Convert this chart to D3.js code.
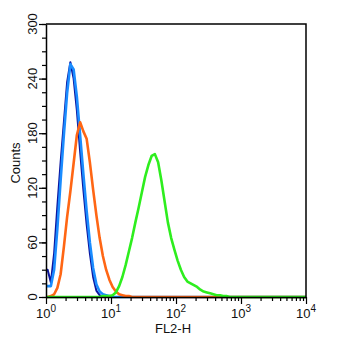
<!DOCTYPE html>
<html>
<head>
<meta charset="utf-8">
<script src="https://cdn.jsdelivr.net/npm/d3@7/dist/d3.min.js"></script>
<style>
  html, body { margin: 0; padding: 0; background: #fff; }
  svg { display: block; font-family: "Liberation Sans", Arial, Helvetica, sans-serif; }
</style>
</head>
<body>
<svg id="chart" width="345" height="346"></svg>
<script>
// Histogram channels: 0.05-decade bins across FL2-H 10^0 .. 10^4
const binLogStep = 0.05;
const binCount = 80;

// Counts per bin, starting at bin 0 (FL2-H = 1); bins not listed are empty
const isotypeNavy = [30, 16, 48, 100, 148, 192, 236, 258, 240, 205, 160, 118, 80, 48, 22, 7, 2, 0];
const controlBlue = [12, 12, 30, 75, 128, 178, 224, 256, 250, 220, 178, 135, 95, 60, 32, 14, 6, 3, 2, 1, 0];
const stainedOrange = [0, 1, 3, 10, 25, 55, 88, 116, 147, 178, 192, 182, 174, 148, 118, 90, 65, 45, 30, 19, 11, 6, 3, 2, 1, 1, 0];
const stainedGreen = [0, 0, 0, 0, 0, 0, 0, 0, 0, 0, 0, 0, 0, 0, 0, 0, 0, 1, 1, 1,
  2, 5, 12, 22, 35, 50, 65, 82, 98, 115, 132, 145, 155, 157, 148, 128, 105, 82, 65, 52,
  40, 30, 22, 17, 15, 13, 11, 8, 6, 5, 4, 3, 2, 2, 1, 1, 0];

const seriesColors = ["#0b16a0", "#1a8cff", "#ff6614", "#2eee1e"];
const seriesWidths = [2, 2.6, 2.6, 2.6];
const seriesData = [isotypeNavy, controlBlue, stainedOrange, stainedGreen];

const yMajorTicks = [0, 60, 120, 180, 240, 300];
const xMajorExponents = [0, 1, 2, 3, 4];
const xTitle = "FL2-H";
const yTitle = "Counts";

const svg = d3.select("#chart");
const plot = { left: 46, right: 306, top: 24, bottom: 297 };

const x = d3.scaleLog().domain([1, 10000]).range([plot.left, plot.right]);
const y = d3.scaleLinear().domain([0, 300]).range([plot.bottom, plot.top]);

// Histogram traces, joined through the bin centres
const centres = d3.range(binCount).map(i => Math.pow(10, (i + 0.5) * binLogStep));
const line = d3.line()
  .x(d => x(d[0]))
  .y(d => y(d[1]));

seriesData.forEach((vals, k) => {
  const counts = centres.map((c, i) => (i < vals.length ? vals[i] : 0));
  const pts = [[1, counts[0]]]
    .concat(centres.map((c, i) => [c, counts[i]]))
    .concat([[10000, counts[binCount - 1]]]);
  svg.append("path")
    .attr("d", line(pts))
    .attr("fill", "none")
    .attr("stroke", seriesColors[k])
    .attr("stroke-width", seriesWidths[k])
    .attr("stroke-linejoin", "round");
});

// Frame
svg.append("path")
  .attr("d", `M${plot.left},${plot.top}H${plot.right}V${plot.bottom}`)
  .attr("fill", "none").attr("stroke", "#000").attr("stroke-width", 1.5);

// Bottom axis: minor ticks
const xMinor = [];
for (let e = 0; e < 4; e++) for (let m = 2; m <= 9; m++) xMinor.push(m * Math.pow(10, e));
svg.append("g")
  .attr("transform", `translate(0,${plot.bottom})`)
  .call(d3.axisBottom(x).tickValues(xMinor).tickSize(4).tickFormat(""))
  .call(g => g.select(".domain").remove())
  .call(g => g.selectAll("line").attr("stroke-width", 1.2));

const xAxis = svg.append("g")
  .attr("transform", `translate(0,${plot.bottom})`)
  .call(d3.axisBottom(x).tickValues(xMajorExponents.map(e => Math.pow(10, e))).tickSize(7).tickSizeOuter(0).tickFormat(""));
xAxis.select(".domain").attr("stroke-width", 1.5);
xAxis.selectAll("line").attr("stroke-width", 1.2);

xMajorExponents.forEach(e => {
  const t = svg.append("text")
    .attr("x", x(Math.pow(10, e)))
    .attr("y", 318)
    .attr("text-anchor", "middle")
    .attr("font-size", 13)
    .attr("fill", "#111");
  t.append("tspan").text("10");
  t.append("tspan").attr("dy", -6).attr("font-size", 10).text(String(e));
});

// Left axis
const yMinor = d3.range(0, 301, 15);
svg.append("g")
  .attr("transform", `translate(${plot.left},0)`)
  .call(d3.axisLeft(y).tickValues(yMinor).tickSize(4).tickFormat(""))
  .call(g => g.select(".domain").remove())
  .call(g => g.selectAll("line").attr("stroke-width", 1.2));

const yAxis = svg.append("g")
  .attr("transform", `translate(${plot.left},0)`)
  .call(d3.axisLeft(y).tickValues(yMajorTicks).tickSize(7).tickSizeOuter(0).tickFormat(""));
yAxis.select(".domain").attr("stroke-width", 1.5);
yAxis.selectAll("line").attr("stroke-width", 1.2);

yMajorTicks.forEach(v => {
  svg.append("text")
    .attr("transform", `translate(37,${y(v)}) rotate(-90)`)
    .attr("text-anchor", "middle")
    .attr("font-size", 13)
    .attr("fill", "#111")
    .text(v);
});

// Axis titles
svg.append("text")
  .attr("x", 173).attr("y", 333)
  .attr("text-anchor", "middle")
  .attr("font-size", 13)
  .attr("fill", "#111")
  .text(xTitle);

svg.append("text")
  .attr("transform", "translate(20,163) rotate(-90)")
  .attr("text-anchor", "middle")
  .attr("font-size", 13)
  .attr("fill", "#111")
  .text(yTitle);
</script>
</body>
</html>
